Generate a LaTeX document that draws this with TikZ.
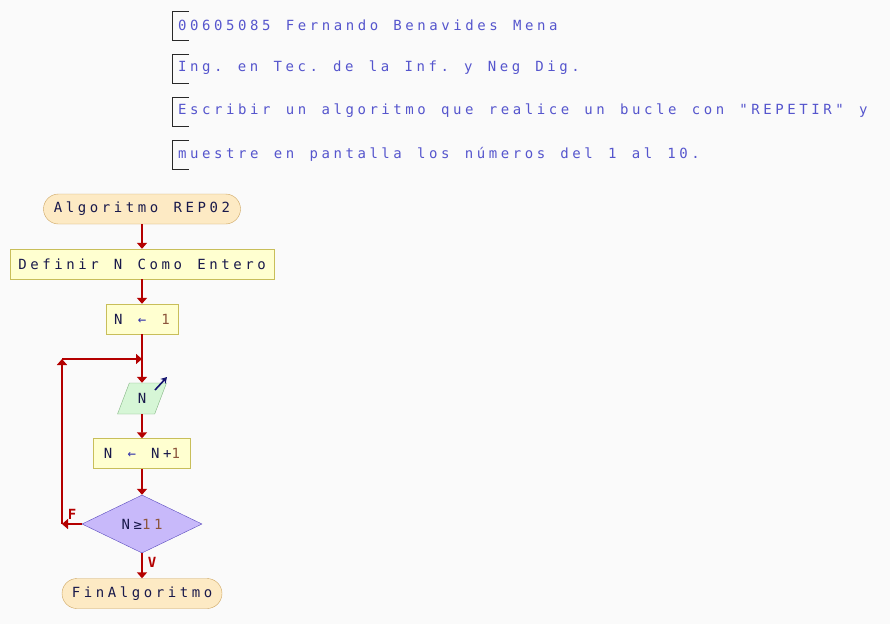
\documentclass[tikz,border=0pt]{standalone}
\usepackage{fontspec}
\usetikzlibrary{arrows.meta,shapes.geometric}
\newfontfamily\pseintfont[LetterSpace=25.5,WordSpace={1.27,0,0}]{DejaVu Sans Mono}
\def\flowtext{\pseintfont\fontsize{14}{16}\selectfont\frenchspacing}

\definecolor{fondo}{RGB}{250,250,250}
\definecolor{termfill}{RGB}{253,234,196}
\definecolor{termline}{RGB}{205,165,95}
\definecolor{procfill}{RGB}{255,255,208}
\definecolor{procline}{RGB}{200,190,90}
\definecolor{iofill}{RGB}{214,246,214}
\definecolor{ioline}{RGB}{130,180,130}
\definecolor{decfill}{RGB}{200,185,250}
\definecolor{decline}{RGB}{90,75,190}
\definecolor{flecha}{RGB}{180,0,0}
\definecolor{tinta}{RGB}{25,25,75}
\definecolor{numero}{RGB}{140,85,60}
\definecolor{asigna}{RGB}{50,50,170}
\definecolor{cabecera}{RGB}{85,85,205}
\definecolor{marca}{RGB}{40,40,40}

\tikzset{
  flow/.style={-{Triangle[length=6pt,width=10pt]}, line width=1.8pt, color=flecha},
  termbox/.style={draw=termline, fill=termfill, rounded corners=15pt, minimum height=30pt, inner sep=0pt, text=tinta, font=\flowtext},
  procbox/.style={draw=procline, fill=procfill, minimum height=30pt, inner sep=0pt, text=tinta, font=\flowtext},
  iobox/.style={draw=ioline, fill=iofill, trapezium, trapezium left angle=69, trapezium right angle=111, trapezium stretches=true, minimum width=49pt, minimum height=31pt, inner sep=0pt, text=tinta, font=\flowtext},
  decbox/.style={draw=decline, fill=decfill, diamond, aspect=2, minimum width=120pt, minimum height=58pt, inner sep=0pt, text=tinta, font=\flowtext},
  ioarrow/.style={-{Stealth[length=6pt,width=7pt]}, line width=1.6pt, color=tinta!80!blue},
  flowlabel/.style={inner sep=0pt, text=flecha, font=\flowtext\bfseries},
  hdrtext/.style={anchor=west, inner sep=0pt, text=cabecera, font=\flowtext},
  hdrmark/.style={line width=0.9pt, color=marca}
}

\begin{document}
\begin{tikzpicture}[x=1pt,y=-1pt]
			%%%%% START %%%%%
			
			\fill[fondo] (0,0) rectangle (890,624);
			\useasboundingbox (0,0) rectangle (890,624);
			
			\draw[hdrmark] (189,11) -- (172,11) -- (172,40) -- (189,40);
			\node[hdrtext] (autor) at (178,25) {00605085 Fernando Benavides Mena};
			\draw[hdrmark] (189,54) -- (172,54) -- (172,83) -- (189,83);
			\node[hdrtext] (carrera) at (178,68) {Ing. en Tec. de la Inf. y Neg Dig.};
			\draw[hdrmark] (189,97) -- (172,97) -- (172,126) -- (189,126);
			\node[hdrtext] (enunciado1) at (178,111) {Escribir un algoritmo que realice un bucle con "REPETIR" y};
			\draw[hdrmark] (189,140) -- (172,140) -- (172,169) -- (189,169);
			\node[hdrtext] (enunciado2) at (178,154) {muestre en pantalla los números del 1 al 10.};
			
			\node[termbox, minimum width=197pt] (inicio) at (142,209) {Algoritmo REP02};
			\node[procbox, minimum width=264pt] (definir) at (142,264) {Definir N Como Entero};
			\node[procbox, minimum width=72pt] (asig1) at (142,319) {N {\color{asigna}←} {\color{numero}1}};
			\node[iobox] (leer) at (142,398.5) {N};
			\node[procbox, minimum width=97pt] (incr) at (142,453.5) {N {\color{asigna}←} N+{\color{numero}1}};
			\node[decbox] (cond) at (142,524) {N≥{\color{numero}11}};
			\node[termbox, minimum width=160pt] (fin) at (142,593.5) {FinAlgoritmo};
			
			\coordinate (union) at (142,359);
			\coordinate (esqF) at (62,524);
			\coordinate (esqUp) at (62,359);
			
			\draw[flow] (inicio) -- (definir);
			\draw[flow] (definir) -- (asig1);
			\draw[flow] (asig1) -- (leer);
			\draw[flow] (leer) -- (incr);
			\draw[flow] (incr) -- (cond);
			\draw[flow] (cond) -- (fin);
			\draw[flow] (cond.west) -- (esqF);
			\draw[flow] (esqF) -- (esqUp);
			\draw[flow] (esqUp) -- (union);
			
			\draw[ioarrow] ([shift={(13,-8.5)}]leer.center) -- ([shift={(25,-21.5)}]leer.center);
			
			\node[flowlabel] (etqF) at (72,514) {F};
			\node[flowlabel] (etqV) at (152,562) {V};
			
			%%%%% END %%%%%
\end{tikzpicture}
\end{document}
